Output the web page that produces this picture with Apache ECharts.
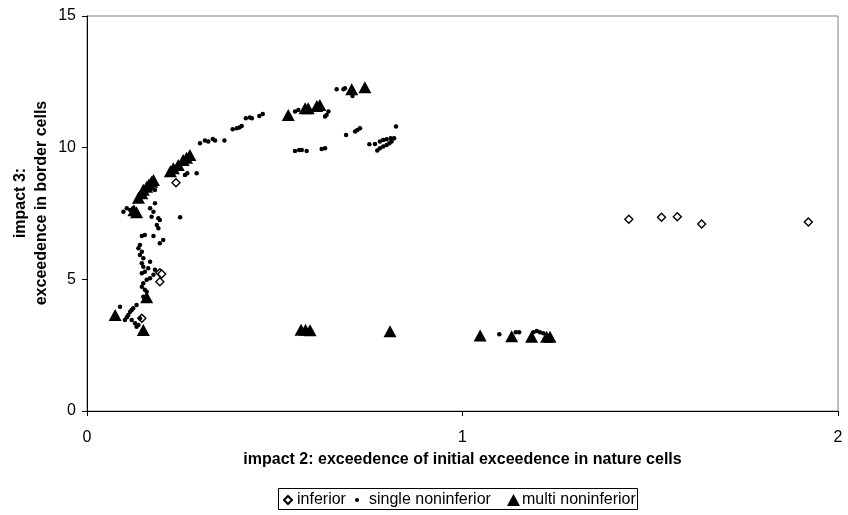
<!DOCTYPE html>
<html>
<head>
<meta charset="utf-8">
<script src="https://cdn.jsdelivr.net/npm/echarts@6/dist/echarts.min.js"></script>
<style>
  html, body { margin: 0; padding: 0; background: #fff; }
  #chart { width: 848px; height: 515px; }
</style>
</head>
<body>
<div id="chart"></div>
<script>
// Axis ticks
const xTicks = [0, 1, 2];
const yTicks = [0, 5, 10, 15];

// Series names
const seriesNames = ['inferior', 'single noninferior', 'multi noninferior'];

// [impact 2, impact 3] per solution
const inferiorPoints = [
  [0.194, 5.25], [0.199, 5.20], [0.194, 4.91], [0.146, 3.52], [0.237, 8.67],
  [1.443, 7.28], [1.530, 7.36], [1.572, 7.38], [1.637, 7.10], [1.921, 7.18]
];

const singlePoints = [
  [0.146, 6.65], [0.154, 6.68], [0.177, 6.65], [0.203, 6.49], [0.194, 6.37], [0.141, 6.30],
  [0.137, 6.18], [0.146, 6.05], [0.141, 5.92], [0.150, 5.80], [0.168, 5.67], [0.146, 5.61],
  [0.150, 5.48], [0.163, 5.42], [0.154, 5.29], [0.146, 5.23], [0.181, 5.36], [0.177, 5.17],
  [0.168, 5.04], [0.159, 4.98], [0.150, 4.85], [0.146, 4.72], [0.154, 4.60], [0.159, 4.53],
  [0.150, 4.34], [0.159, 4.22],
  [0.088, 3.96], [0.119, 3.84], [0.110, 3.65], [0.106, 3.56], [0.101, 3.46], [0.119, 3.46],
  [0.141, 3.52], [0.128, 3.33], [0.132, 3.20], [0.115, 3.77], [0.137, 3.27], [0.123, 3.90],
  [0.132, 4.03],
  [0.097, 7.57], [0.106, 7.70], [0.115, 7.63], [0.123, 7.70], [0.181, 8.39], [0.181, 7.89],
  [0.168, 7.70], [0.177, 7.57], [0.172, 7.38], [0.190, 7.32], [0.194, 7.25], [0.248, 7.36],
  [0.186, 7.06], [0.190, 6.94],
  [0.261, 8.96], [0.267, 9.03], [0.292, 9.03],
  [0.301, 10.17], [0.314, 10.27], [0.323, 10.23], [0.335, 10.33], [0.341, 10.27], [0.366, 10.27],
  [0.388, 10.70], [0.399, 10.74], [0.406, 10.77], [0.412, 10.82],
  [0.423, 11.12], [0.434, 11.15], [0.439, 11.12], [0.459, 11.20], [0.468, 11.28],
  [0.554, 11.37], [0.563, 11.43], [0.643, 11.37], [0.634, 11.18], [0.638, 11.24],
  [0.665, 12.22], [0.683, 12.22], [0.687, 12.26], [0.707, 11.96],
  [0.690, 10.48], [0.714, 10.61], [0.720, 10.67], [0.727, 10.74], [0.823, 10.80],
  [0.554, 9.87], [0.565, 9.91], [0.572, 9.91], [0.585, 9.87], [0.625, 9.95], [0.634, 9.98],
  [0.752, 10.13], [0.767, 10.14], [0.780, 10.23], [0.789, 10.29], [0.798, 10.32], [0.809, 10.36],
  [0.818, 10.36],
  [0.773, 9.89], [0.780, 9.98], [0.789, 10.04], [0.798, 10.10], [0.805, 10.17], [0.811, 10.23],
  [1.098, 2.91], [1.142, 2.99], [1.151, 2.99], [1.189, 2.99], [1.198, 3.04], [1.206, 2.99],
  [1.215, 2.95]
];

const multiPoints = [
  [0.075, 3.65], [0.150, 3.08], [0.159, 4.32],
  [0.125, 7.62], [0.132, 7.55],
  [0.137, 8.10], [0.146, 8.27], [0.150, 8.40], [0.159, 8.52], [0.165, 8.60], [0.172, 8.71], [0.177, 8.77],
  [0.222, 9.10], [0.230, 9.22], [0.243, 9.34], [0.256, 9.53], [0.265, 9.62], [0.274, 9.72],
  [0.536, 11.24], [0.581, 11.50], [0.589, 11.50], [0.612, 11.58], [0.620, 11.62],
  [0.705, 12.22], [0.740, 12.29],
  [0.570, 3.09], [0.582, 3.09], [0.594, 3.07], [0.807, 3.03],
  [1.047, 2.87], [1.131, 2.84], [1.184, 2.82], [1.224, 2.82], [1.233, 2.82]
];

const FONT = '"Liberation Sans", Arial, sans-serif';

const chart = echarts.init(document.getElementById('chart'), null, { renderer: 'canvas' });

const legendBase = {
  top: 492,
  padding: 0,
  textStyle: { fontFamily: FONT, fontSize: 16, color: '#000' },
  selectedMode: false
};

chart.setOption({
  animation: false,
  backgroundColor: '#fff',
  grid: {
    left: 87, right: 10, top: 16, bottom: 104,
    show: true, borderColor: '#808080', borderWidth: 1, backgroundColor: 'transparent'
  },
  xAxis: {
    type: 'value',
    min: xTicks[0], max: xTicks[xTicks.length - 1], interval: 1,
    splitLine: { show: false },
    axisLine: { show: true, onZero: false, lineStyle: { color: '#000', width: 1 } },
    axisTick: { show: true, length: 5, lineStyle: { color: '#000' } },
    axisLabel: { fontFamily: FONT, fontSize: 16, color: '#000', margin: 19 }
  },
  yAxis: {
    type: 'value',
    min: yTicks[0], max: yTicks[yTicks.length - 1], interval: 5,
    splitLine: { show: false },
    axisLine: { show: true, onZero: false, lineStyle: { color: '#000', width: 1 } },
    axisTick: { show: true, length: 5, lineStyle: { color: '#000' } },
    axisLabel: { fontFamily: FONT, fontSize: 16, color: '#000', margin: 11 }
  },
  legend: [
    Object.assign({}, legendBase, {
      left: 283, data: [seriesNames[0]], icon: 'diamond', itemWidth: 8, itemHeight: 8
    }),
    Object.assign({}, legendBase, {
      left: 355, data: [seriesNames[1]], icon: 'circle', itemWidth: 4, itemHeight: 4,
      textStyle: Object.assign({}, legendBase.textStyle, { padding: [0, 0, 0, 5] })
    }),
    Object.assign({}, legendBase, {
      left: 507, data: [seriesNames[2]], icon: 'triangle', itemWidth: 13, itemHeight: 12,
      textStyle: Object.assign({}, legendBase.textStyle, { padding: [0, 0, 0, -3] })
    })
  ],
  graphic: [
    {
      type: 'rect', silent: true,
      shape: { x: 278.5, y: 488.5, width: 359, height: 21 },
      style: { fill: 'none', stroke: '#000', lineWidth: 1 }
    },
    {
      type: 'text', silent: true, x: 462.5, y: 460,
      style: {
        text: 'impact 2: exceedence of initial exceedence in nature cells',
        fontFamily: FONT, fontSize: 16, fontWeight: 'bold', fill: '#000',
        align: 'center', verticalAlign: 'middle'
      }
    },
    {
      type: 'text', silent: true, x: 21, y: 203, rotation: Math.PI / 2,
      style: {
        text: 'impact 3:', fontFamily: FONT, fontSize: 16, fontWeight: 'bold', fill: '#000',
        align: 'center', verticalAlign: 'middle'
      }
    },
    {
      type: 'text', silent: true, x: 42, y: 203, rotation: Math.PI / 2,
      style: {
        text: 'exceedence in border cells', fontFamily: FONT, fontSize: 16, fontWeight: 'bold', fill: '#000',
        align: 'center', verticalAlign: 'middle'
      }
    }
  ],
  series: [
    {
      name: seriesNames[0], type: 'scatter', data: inferiorPoints,
      symbol: 'diamond', symbolSize: 8,
      itemStyle: { color: '#fff', borderColor: '#000', borderWidth: 1.4, opacity: 1 },
      emphasis: { disabled: true }
    },
    {
      name: seriesNames[1], type: 'scatter', data: singlePoints,
      symbol: 'circle', symbolSize: 4.5,
      itemStyle: { color: '#000', opacity: 1 },
      emphasis: { disabled: true }
    },
    {
      name: seriesNames[2], type: 'scatter', data: multiPoints,
      symbol: 'triangle', symbolSize: [13, 12],
      itemStyle: { color: '#000', opacity: 1 },
      emphasis: { disabled: true }
    }
  ]
});
</script>
</body>
</html>
